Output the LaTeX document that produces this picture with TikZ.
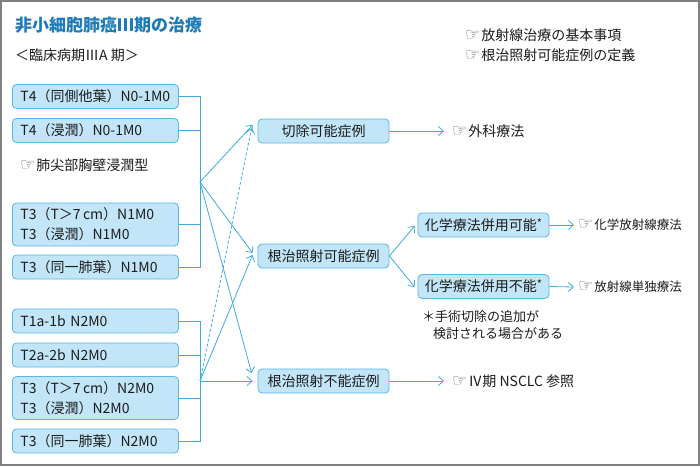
\documentclass[tikz,border=0pt]{standalone}
\usepackage{fontspec}
\setmainfont{Noto Sans CJK JP}
\newfontfamily\symf{DejaVu Sans}
\usetikzlibrary{arrows.meta,calc}
\definecolor{boxfill}{HTML}{C2E6F8}
\definecolor{boxline}{HTML}{5AB8E6}
\definecolor{lineblue}{HTML}{40AAE0}
\definecolor{titleblue}{HTML}{1E7BB8}
\definecolor{txt}{HTML}{1C1C1C}
\newcommand\hand{{\symf\fontsize{17}{15}\selectfont\color{black!60}☞}\hspace{1pt}}
\newcommand\boxast{\raisebox{3pt}{\fontsize{11}{11}\selectfont *}}
\begin{document}
\begin{tikzpicture}[x=1pt,y=-1pt,
  every node/.style={text=txt, font=\fontsize{14}{20}\selectfont},
  lbox/.style={draw=boxline, fill=boxfill, line width=0.8pt, rounded corners=4pt, anchor=west,
    minimum width=166pt, text width=150pt, inner xsep=8pt, minimum height=24pt, align=left},
  mbox/.style={draw=boxline, fill=boxfill, line width=0.8pt, rounded corners=4pt,
    minimum width=131pt, minimum height=24pt, inner xsep=2pt, align=center},
  reflabel/.style={anchor=west, inner sep=0pt},
  conn/.style={draw=lineblue, line width=0.8pt},
  arr/.style={conn, -{Straight Barb[length=5pt,width=9pt]}},
]
\useasboundingbox (0,0) rectangle (700,466);
\fill[white] (0,0) rectangle (700,466);
\draw[black!50, line width=2pt] (1,1) rectangle (699,465);

% titles
\node[reflabel, text=titleblue, font=\fontsize{17}{20}\selectfont\bfseries] (title) at (15,25) {非小細胞肺癌Ⅲ期の治療};
\node[reflabel] (sub) at (15,55) {＜臨床病期ⅢA 期＞};
\node[reflabel] (r1) at (465,35) {\hand 放射線治療の基本事項};
\node[reflabel] (r2) at (465,55) {\hand 根治照射可能症例の定義};

% left boxes
\node[lbox] (b1) at (12,96.5) {T4（同側他葉）N0-1M0};
\node[lbox] (b2) at (12,130.5) {T4（浸潤）N0-1M0};
\node[reflabel] (haisen) at (20,165) {\hand 肺尖部胸壁浸潤型};
\node[lbox, minimum height=43pt] (b3) at (12,224.5) {T3（T＞7\,cm）N1M0\\T3（浸潤）N1M0};
\node[lbox] (b4) at (12,267) {T3（同一肺葉）N1M0};
\node[lbox] (b5) at (12,321) {T1a-1b N2M0};
\node[lbox] (b6) at (12,355) {T2a-2b N2M0};
\node[lbox, minimum height=43pt] (b7) at (12,398) {T3（T＞7\,cm）N2M0\\T3（浸潤）N2M0};
\node[lbox] (b8) at (12,441) {T3（同一肺葉）N2M0};

% middle boxes
\node[mbox] (kirijo) at (323.5,131) {切除可能症例};
\node[mbox] (konchi) at (323.5,256) {根治照射可能症例};
\node[mbox] (funo) at (323.5,381) {根治照射不能症例};

% right boxes
\node[mbox] (chemA) at (483.5,225) {化学療法併用可能\boxast};
\node[mbox] (chemB) at (483.5,286.5) {化学療法併用不能\boxast};
\node[reflabel, font=\fontsize{13}{17}\selectfont] (note1) at (422,317) {＊手術切除の追加が};
\node[reflabel, font=\fontsize{13}{17}\selectfont] (note2) at (433,334) {検討される場合がある};

% reference labels
\node[reflabel] (geka) at (452,131) {\hand 外科療法};
\node[reflabel, font=\fontsize{12.5}{16}\selectfont] (chemrad) at (578,225) {\hand 化学放射線療法};
\node[reflabel, font=\fontsize{12.5}{16}\selectfont] (radonly) at (578,287) {\hand 放射線単独療法};
\node[reflabel] (stage4) at (452,381) {\hand Ⅳ期 NSCLC 参照};

% hubs
\coordinate (hubU) at (200,182);
\coordinate (hubL) at (200,381);

% brackets
\draw[conn] (b1.east) -| (hubU);
\draw[conn] (b2.east) -| (hubU);
\draw[conn] (b3.east) -| (hubU);
\draw[conn] (b4.east) -| (hubU);
\draw[conn] (b5.east) -| (hubL);
\draw[conn] (b6.east) -| (hubL);
\draw[conn] (b7.east) -| (hubL);
\draw[conn] (b8.east) -| (hubL);

% tips
\coordinate (tK1) at ($(kirijo.west)+(-5,-6)$);
\coordinate (tK2) at ($(kirijo.west)+(-6,-3)$);
\coordinate (tC1) at ($(konchi.west)+(-5,-3)$);
\coordinate (tC2) at ($(konchi.west)+(-5,-1)$);
\coordinate (tF1) at ($(funo.west)+(-6,-8)$);
\coordinate (tF2) at ($(funo.west)+(-5,0)$);

\draw[arr] (hubU) -- (tK1);
\draw[arr] (hubU) -- (tC1);
\draw[arr] (hubU) -- (tF1);
\draw[arr, dash pattern=on 3pt off 2pt] (hubL) -- (tK2);
\draw[arr] (hubL) -- (tC2);
\draw[arr] (hubL) -- (tF2);

\draw[arr] (konchi.east) -- ($(chemA.west)+(-3,1)$);
\draw[arr] (konchi.east) -- ($(chemB.west)+(-3,0.5)$);

\draw[arr] (kirijo.east) -- ($(geka.west)+(-8,0)$);
\draw[arr] (funo.east) -- ($(stage4.west)+(-8,0)$);
\draw[arr] (chemA.east) -- ($(chemrad.west)+(-4,0)$);
\draw[arr] (chemB.east) -- ($(radonly.west)+(-4,0)$);
\end{tikzpicture}
\end{document}
